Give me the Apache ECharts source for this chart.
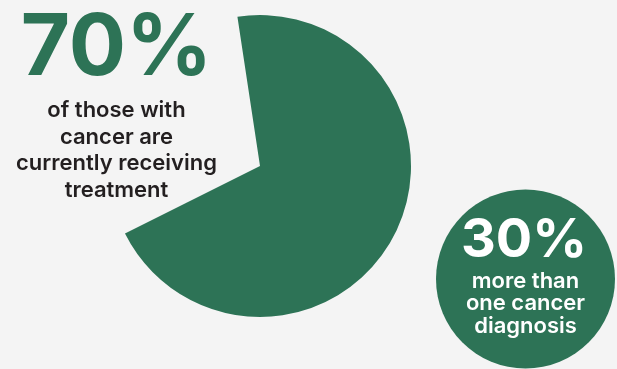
<!DOCTYPE html>
<html>
<head>
<meta charset="utf-8">
<style>
  html, body { margin: 0; padding: 0; background: #f4f4f4; }
  #chart { width: 617px; height: 369px; }
</style>
<script src="https://cdn.jsdelivr.net/npm/echarts@6/dist/echarts.min.js"></script>
</head>
<body>
<div id="chart"></div>
<script>
// Share of patients: currently receiving treatment vs. more than one diagnosis
const shareNames = ['currently receiving treatment', 'more than one cancer diagnosis'];
const shareValues = [70, 30];
const treatmentLines = ['of those with', 'cancer are', 'currently receiving', 'treatment'];
const diagnosisLines = ['more than', 'one cancer', 'diagnosis'];

const GREEN = '#2d7356';
const INK = '#231f20';
const FONT = 'Inter, "Noto Sans", sans-serif';

const chart = echarts.init(document.getElementById('chart'), null, { renderer: 'canvas' });

function lineTexts(lines, x, y0, step, color, size) {
  return lines.map((t, i) => ({
    type: 'text',
    x: x,
    y: y0 + i * step,
    z: 100,
    silent: true,
    style: {
      text: t,
      fill: color,
      font: '600 ' + size + 'px ' + FONT,
      textAlign: 'center',
      textVerticalAlign: 'middle'
    }
  }));
}

chart.setOption({
  backgroundColor: '#f4f4f4',
  animation: false,
  series: [
    {
      // main pie: only the treatment share is filled
      type: 'pie',
      center: [260, 166],
      radius: [0, 151],
      startAngle: 98.6,
      clockwise: true,
      silent: true,
      z: 1,
      label: { show: false },
      labelLine: { show: false },
      emphasis: { disabled: true },
      data: [
        { name: shareNames[0], value: shareValues[0], itemStyle: { color: GREEN } },
        { name: shareNames[1], value: shareValues[1], itemStyle: { color: 'rgba(0,0,0,0)' } }
      ]
    },
    {
      // badge circle for the second share
      type: 'pie',
      center: [525.5, 279],
      radius: [0, 89.5],
      silent: true,
      z: 1,
      label: { show: false },
      labelLine: { show: false },
      emphasis: { disabled: true },
      data: [
        { name: shareNames[1], value: shareValues[1], itemStyle: { color: GREEN } }
      ]
    }
  ],
  graphic: {
    elements: [
      {
        type: 'text',
        x: 116.5,
        y: 49,
        z: 100,
        silent: true,
        style: {
          text: shareValues[0] + '%',
          fill: GREEN,
          font: '700 85px ' + FONT,
          textAlign: 'center',
          textVerticalAlign: 'middle'
        }
      },
      ...lineTexts(treatmentLines, 116.5, 110.5, 26.5, INK, 22),
      {
        type: 'text',
        x: 524,
        y: 241,
        z: 100,
        silent: true,
        style: {
          text: shareValues[1] + '%',
          fill: '#ffffff',
          font: '700 54px ' + FONT,
          textAlign: 'center',
          textVerticalAlign: 'middle'
        }
      },
      ...lineTexts(diagnosisLines, 525.5, 281, 22.5, '#ffffff', 22)
    ]
  }
});
</script>
</body>
</html>
